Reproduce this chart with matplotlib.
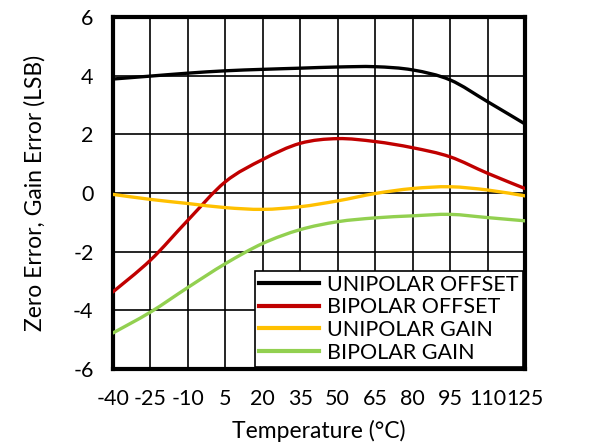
import matplotlib.pyplot as plt
from matplotlib.path import Path
from matplotlib.patches import PathPatch
import numpy as np

plt.rcParams['font.family'] = ['Lato', 'DejaVu Sans']
plt.rcParams['axes.unicode_minus'] = False

temps = [-40, -25, -10, 5, 20, 35, 50, 65, 80, 95, 110, 125]
unipolar_offset = [3.88, 3.98, 4.08, 4.16, 4.21, 4.25, 4.29, 4.30, 4.19, 3.85, 3.11, 2.35]
bipolar_offset = [-3.37, -2.29, -0.93, 0.38, 1.14, 1.69, 1.85, 1.75, 1.54, 1.23, 0.67, 0.15]
unipolar_gain = [-0.05, -0.22, -0.36, -0.50, -0.56, -0.47, -0.27, -0.02, 0.15, 0.21, 0.10, -0.10]
bipolar_gain = [-4.77, -4.06, -3.22, -2.41, -1.72, -1.25, -0.98, -0.85, -0.78, -0.73, -0.84, -0.95]

series = [
    ('UNIPOLAR OFFSET', unipolar_offset, '#000000'),
    ('BIPOLAR OFFSET', bipolar_offset, '#C00000'),
    ('UNIPOLAR GAIN', unipolar_gain, '#FFC000'),
    ('BIPOLAR GAIN', bipolar_gain, '#92D050'),
]


def smooth_path(x, y):
    # excel-like smoothed line: catmull-rom turned into cubic beziers
    p = np.column_stack([x, y]).astype(float)
    ext = np.vstack([p[0], p, p[-1]])
    verts = [p[0]]
    codes = [Path.MOVETO]
    for i in range(len(p) - 1):
        p0, p1, p2, p3 = ext[i], ext[i + 1], ext[i + 2], ext[i + 3]
        verts += [p1 + (p2 - p0) / 6, p2 - (p3 - p1) / 6, p2]
        codes += [Path.CURVE4] * 3
    return Path(verts, codes)


fig = plt.figure(figsize=(6.14, 4.42), dpi=100)
ax = fig.add_axes([0.184, 0.165, 0.671, 0.797])

for name, vals, col in series:
    ax.add_patch(PathPatch(smooth_path(temps, vals), fill=False, edgecolor=col,
                           lw=2.4, capstyle='round', zorder=3))
    ax.plot([], [], color=col, lw=3, label=name)

ax.set_xlim(-40, 125)
ax.set_ylim(-6, 6)
ax.set_xticks(np.arange(-40, 126, 15))
ax.set_yticks(np.arange(-6, 7, 2))
ax.grid(True, color='black', lw=1.2)
ax.tick_params(length=0, labelsize=15.5)
ax.tick_params(axis='x', pad=14)
ax.tick_params(axis='y', pad=14)
for sp in ax.spines.values():
    sp.set_linewidth(3)

ax.set_xlabel('Temperature (°C)', fontsize=16.5, labelpad=8)
ax.set_ylabel('Zero Error, Gain Error (LSB)', fontsize=16.5, labelpad=20)

leg = ax.legend(loc='lower right', fontsize=15.5, borderaxespad=0.1, fancybox=False,
                framealpha=1, edgecolor='black', handlelength=2.8, labelspacing=0.12,
                handletextpad=0.35, borderpad=0.2)
leg.get_frame().set_linewidth(1.2)
leg.set_zorder(5)

fig.savefig('out.png', dpi=100)
